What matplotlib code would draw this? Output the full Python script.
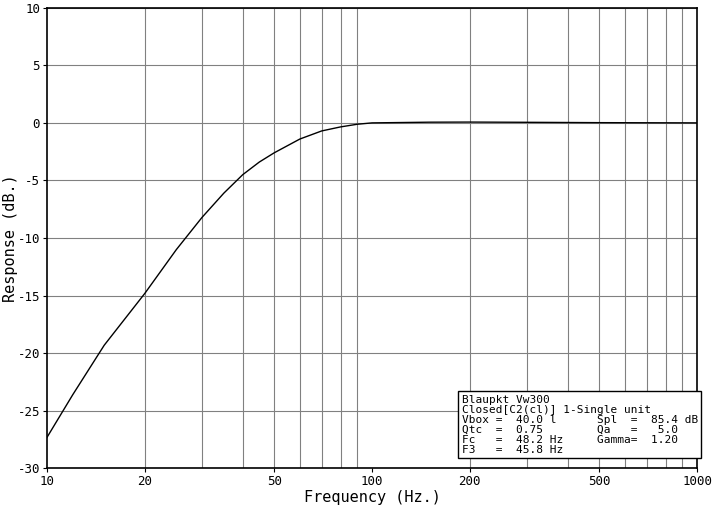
import matplotlib
matplotlib.use("Agg")
import matplotlib.pyplot as plt
import numpy as np

freq = [10, 12, 15, 20, 25, 30, 35, 40, 45, 50, 60, 70, 80, 90, 100, 150, 200, 300, 500, 1000]
resp = [-27.3, -23.6, -19.3, -14.8, -11.0, -8.2, -6.1, -4.5, -3.4, -2.6, -1.4, -0.7, -0.35, -0.12, 0.0, 0.06, 0.07, 0.05, 0.02, 0.0]
xticks = [10, 20, 50, 100, 200, 500, 1000]
yticks = [-30, -25, -20, -15, -10, -5, 0, 5, 10]

mono = "DejaVu Sans Mono"
fig = plt.figure(figsize=(7.12, 5.12), dpi=100)
ax = fig.add_axes([0.066, 0.085, 0.913, 0.9])
ax.set_xscale("log")
ax.set_xlim(10, 1000)
ax.set_ylim(-30, 10)
ax.semilogx(freq, resp, color="black", lw=1.0)
ax.set_xticks(xticks)
ax.set_xticklabels([str(t) for t in xticks], fontfamily=mono, fontsize=9)
ax.minorticks_off()
minors = [v*d for d in (10, 100) for v in range(2, 10)]
for m in minors:
    ax.axvline(m, color="#808080", lw=0.8, zorder=0)
ax.set_yticks(yticks)
ax.set_yticklabels([str(t) for t in yticks], fontfamily=mono, fontsize=9)
ax.grid(True, axis="y", color="#808080", lw=0.8)
ax.tick_params(length=3, pad=2)
ax.set_xlabel("Frequency (Hz.)", fontfamily=mono, fontsize=11, labelpad=1)
ax.set_ylabel("Response (dB.)", fontfamily=mono, fontsize=11, labelpad=0)
for s in ax.spines.values():
    s.set_linewidth(1.2)

txt = ("Blaupkt Vw300\nClosed[C2(cl)] 1-Single unit\n"
       "Vbox =  40.0 l      Spl  =  85.4 dB\n"
       "Qtc  =  0.75        Qa   =   5.0\n"
       "Fc   =  48.2 Hz     Gamma=  1.20\n"
       "F3   =  45.8 Hz")
ax.text(0.638, 0.03, txt, transform=ax.transAxes, fontfamily=mono, fontsize=8,
        linespacing=1.0, va="bottom", ha="left",
        bbox=dict(facecolor="white", edgecolor="black", lw=1, boxstyle="square,pad=0.3"))
fig.savefig("out.png", dpi=100)
